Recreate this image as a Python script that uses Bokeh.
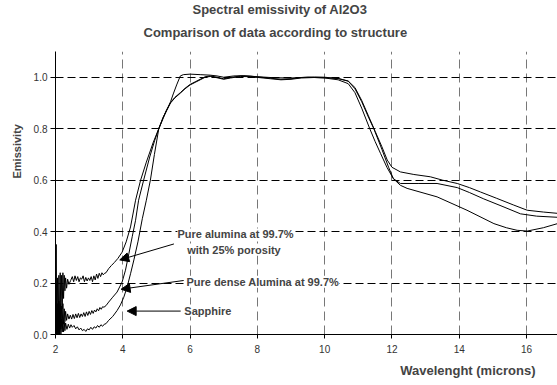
import math
from bokeh.plotting import figure
from bokeh.models import Label, Arrow, NormalHead, FixedTicker, Title, CustomJSTickFormatter
from bokeh.embed import file_html
from bokeh.resources import INLINE

# ---------------- data ----------------
porous_x = [2.00, 2.02, 2.04, 2.06, 2.08, 2.10, 2.12, 2.14, 2.16, 2.18, 2.20, 2.22, 2.24, 2.26, 2.28, 2.30,
            2.33, 2.36, 2.40, 2.45, 2.50, 2.54, 2.58, 2.62, 2.66, 2.70, 2.74, 2.78, 2.82, 2.86, 2.90, 2.94,
            2.98, 3.02, 3.06, 3.10, 3.14, 3.18, 3.22, 3.26, 3.30, 3.34, 3.38, 3.42, 3.46, 3.50, 3.58, 3.66,
            3.75, 3.85, 3.98, 4.10, 4.23, 4.38, 4.53, 4.70, 4.90, 5.07, 5.20, 5.30, 5.42, 5.55, 5.71, 5.85,
            6.00, 6.15, 6.30, 6.45, 6.60, 6.80, 7.00, 7.20, 7.50, 7.80, 8.10, 8.40, 8.70, 9.00, 9.30, 9.70,
            10.00, 10.40, 10.70, 10.90, 11.10, 11.30, 11.46, 11.70, 11.90, 12.04, 12.25, 12.80, 13.34, 13.94,
            14.30, 14.73, 15.30, 15.82, 16.30, 17.00]
porous_y = [0.00, 0.35, 0.00, 0.22, 0.01, 0.23, 0.04, 0.24, 0.06, 0.23, 0.10, 0.24, 0.14, 0.23, 0.17, 0.22,
            0.18, 0.215, 0.195, 0.21, 0.225, 0.205, 0.228, 0.21, 0.225, 0.205, 0.22, 0.215, 0.228, 0.205, 0.222, 0.208,
            0.22, 0.21, 0.225, 0.205, 0.228, 0.212, 0.235, 0.218, 0.238, 0.225, 0.24, 0.232, 0.238, 0.24, 0.256, 0.268,
            0.28, 0.295, 0.32, 0.36, 0.418, 0.522, 0.60, 0.67, 0.745, 0.80, 0.84, 0.87, 0.90, 0.92, 0.938, 0.955,
            0.97, 0.98, 0.99, 1.00, 1.003, 0.998, 0.992, 0.997, 1.003, 1.002, 0.998, 0.994, 0.99, 0.992, 0.997, 0.999,
            0.998, 0.995, 0.985, 0.955, 0.905, 0.845, 0.80, 0.72, 0.65, 0.606, 0.587, 0.587, 0.587, 0.571,
            0.552, 0.527, 0.497, 0.469, 0.46, 0.455]

dense_x = [2.00, 2.02, 2.04, 2.06, 2.08, 2.10, 2.12, 2.14, 2.16, 2.18, 2.20, 2.22, 2.24, 2.26, 2.28, 2.30,
           2.33, 2.36, 2.40, 2.44, 2.48, 2.52, 2.56, 2.60, 2.64, 2.68, 2.72, 2.76, 2.80, 2.84, 2.88, 2.92,
           2.96, 3.00, 3.04, 3.08, 3.12, 3.16, 3.20, 3.24, 3.28, 3.32, 3.36, 3.40, 3.44, 3.50, 3.58, 3.70,
           3.83, 3.98, 4.08, 4.18, 4.28, 4.38, 4.47, 4.62, 4.80, 4.95, 5.07, 5.20, 5.30, 5.42, 5.55, 5.71,
           5.85, 6.00, 6.15, 6.30, 6.45, 6.60, 6.80, 7.00, 7.20, 7.50, 7.80, 8.10, 8.40, 8.70, 9.00, 9.30,
           9.70, 10.00, 10.40, 10.70, 10.90, 11.10, 11.30, 11.50, 11.70, 11.86, 12.00, 12.25, 12.65, 13.14,
           13.50, 13.94, 14.30, 14.63, 15.10, 15.62, 16.02, 16.50, 17.00]
dense_y = [0.00, 0.20, 0.00, 0.12, 0.00, 0.13, 0.01, 0.12, 0.02, 0.11, 0.03, 0.12, 0.04, 0.10, 0.05, 0.09,
           0.055, 0.08, 0.06, 0.075, 0.06, 0.078, 0.062, 0.08, 0.065, 0.082, 0.066, 0.08, 0.07, 0.085, 0.07, 0.088,
           0.074, 0.09, 0.078, 0.093, 0.082, 0.095, 0.088, 0.10, 0.092, 0.105, 0.098, 0.108, 0.106, 0.112, 0.126, 0.145,
           0.165, 0.204, 0.25, 0.314, 0.38, 0.444, 0.522, 0.60, 0.69, 0.755, 0.80, 0.843, 0.873, 0.902, 0.922, 0.94,
           0.957, 0.972, 0.982, 0.992, 1.002, 1.005, 1.0, 0.994, 0.999, 1.005, 1.004, 1.0, 0.996, 0.992, 0.994, 0.999,
           1.001, 1.0, 0.995, 0.985, 0.96, 0.91, 0.85, 0.79, 0.73, 0.678, 0.65, 0.632, 0.622, 0.613,
           0.60, 0.587, 0.571, 0.554, 0.53, 0.503, 0.483, 0.476, 0.47]

sapphire_x = [2.00, 2.02, 2.04, 2.06, 2.08, 2.10, 2.12, 2.14, 2.16, 2.18, 2.20, 2.22, 2.24, 2.26, 2.28, 2.30,
              2.34, 2.38, 2.42, 2.46, 2.50, 2.55, 2.60, 2.65, 2.70, 2.75, 2.80, 2.85, 2.90, 2.95, 3.00, 3.05,
              3.10, 3.15, 3.20, 3.25, 3.30, 3.35, 3.40, 3.45, 3.50, 3.58, 3.70, 3.83, 3.93, 4.03, 4.13, 4.23,
              4.33, 4.45, 4.58, 4.70, 4.82, 4.94, 5.07, 5.20, 5.32, 5.42, 5.50, 5.60, 5.71, 5.80, 6.00, 6.30,
              6.60, 6.80, 7.00, 7.30, 7.60, 8.00, 8.50, 9.00, 9.50, 10.00, 10.40, 10.70, 10.90, 11.10, 11.34,
              11.50, 11.66, 11.85, 12.04, 12.25, 12.45, 13.34, 14.23, 15.03, 15.40, 15.72, 16.02, 16.50, 17.00]
sapphire_y = [0.00, 0.10, 0.00, 0.08, 0.00, 0.09, 0.00, 0.07, 0.00, 0.06, 0.01, 0.05, 0.01, 0.05, 0.015, 0.045,
              0.02, 0.04, 0.025, 0.038, 0.028, 0.035, 0.022, 0.03, 0.018, 0.025, 0.015, 0.02, 0.012, 0.022, 0.018, 0.028,
              0.02, 0.03, 0.025, 0.035, 0.028, 0.038, 0.032, 0.04, 0.042, 0.055, 0.07, 0.093, 0.115, 0.145, 0.185, 0.236,
              0.29, 0.36, 0.45, 0.522, 0.60, 0.70, 0.80, 0.845, 0.875, 0.905, 0.935, 0.97, 1.005, 1.01, 1.012, 1.01,
              1.008, 1.005, 1.0, 1.005, 1.006, 1.002, 0.998, 0.997, 1.0, 0.997, 0.99, 0.975, 0.94, 0.88, 0.80,
              0.75, 0.704, 0.65, 0.606, 0.58, 0.568, 0.535, 0.483, 0.431, 0.415, 0.405, 0.402, 0.415, 0.434]

x_ticks = [2, 4, 6, 8, 10, 12, 14, 16]
y_ticks = [0.0, 0.2, 0.4, 0.6, 0.8, 1.0]

title_lines = ["Spectral emissivity of Al2O3", "Comparison of data according to structure"]
x_title = "Wavelenght (microns)"
y_title = "Emissivity"

# annotation texts: (text, x, y, align)
notes = [("Pure alumina at 99.7%", 7.35, 0.389, "center"),
         ("with 25%  porosity", 7.35, 0.330, "center"),
         ("Pure dense Alumina at 99.7%", 5.89, 0.205, "left"),
         ("Sapphire", 5.83, 0.093, "left")]
# arrows: (tail x, tail y, head x, head y)
arrows = [(5.52, 0.352, 3.91, 0.290),
          (5.81, 0.210, 3.95, 0.176),
          (5.72, 0.091, 4.13, 0.091)]

FONT = "Liberation Sans"

p = figure(width=557, height=385, x_range=(2, 16.92), y_range=(0, 1.1),
           output_backend="svg", toolbar_location=None,
           min_border_left=55, min_border_right=0, min_border_top=51, min_border_bottom=51)
p.outline_line_color = None
p.background_fill_color = "white"
p.border_fill_color = "white"

for xs, ys in [(porous_x, porous_y), (dense_x, dense_y), (sapphire_x, sapphire_y)]:
    p.line(xs, ys, line_color="black", line_width=1)

p.xaxis.ticker = FixedTicker(ticks=x_ticks)
p.yaxis.ticker = FixedTicker(ticks=y_ticks)
p.yaxis.formatter = CustomJSTickFormatter(code="return tick.toFixed(1);")
p.xaxis.formatter = CustomJSTickFormatter(code="return tick.toFixed(0);")

for ax in (p.xaxis, p.yaxis):
    ax.axis_line_color = "black"
    ax.axis_line_width = 1
    ax.major_tick_line_color = "black"
    ax.major_tick_in = 0
    ax.minor_tick_line_color = None
    ax.major_label_text_font = FONT
    ax.major_label_text_font_size = "10px"
    ax.major_label_text_color = "#333333"
p.xaxis.major_tick_out = 4
p.xaxis.major_label_standoff = 6
p.yaxis.major_tick_out = 5
p.yaxis.major_label_standoff = 3

p.xgrid.ticker = FixedTicker(ticks=x_ticks)
p.ygrid.ticker = FixedTicker(ticks=y_ticks)
p.xgrid.grid_line_color = "#777777"
p.xgrid.grid_line_dash = "9 5"
p.ygrid.grid_line_color = "black"
p.ygrid.grid_line_dash = "8 4"

# titles (first added sits closest to the plot)
p.add_layout(Title(text=title_lines[1], align="left", offset=88, standoff=24,
                   text_font=FONT, text_font_style="bold", text_font_size="13px"), "above")
p.add_layout(Title(text=title_lines[0], align="left", offset=137, standoff=-13,
                   text_font=FONT, text_font_style="bold", text_font_size="13px"), "above")
p.add_layout(Title(text=x_title, align="right", offset=22, standoff=11,
                   text_font=FONT, text_font_style="bold", text_font_size="13px"), "below")
p.add_layout(Title(text=y_title, align="left", offset=156, standoff=16,
                   text_font=FONT, text_font_style="bold", text_font_size="11px"), "left")

for t, x, y, al in notes:
    p.add_layout(Label(x=x, y=y, text=t, text_align=al, text_baseline="middle",
                       background_fill_color="white",
                       text_font=FONT, text_font_style="bold", text_font_size="11px"))
for x0, y0, x1, y1 in arrows:
    p.add_layout(Arrow(x_start=x0, y_start=y0, x_end=x1, y_end=y1, line_color="black", line_width=1,
                       end=NormalHead(size=9, fill_color="black", line_color="black")))

open("out.html", "w").write(file_html(p, INLINE))
